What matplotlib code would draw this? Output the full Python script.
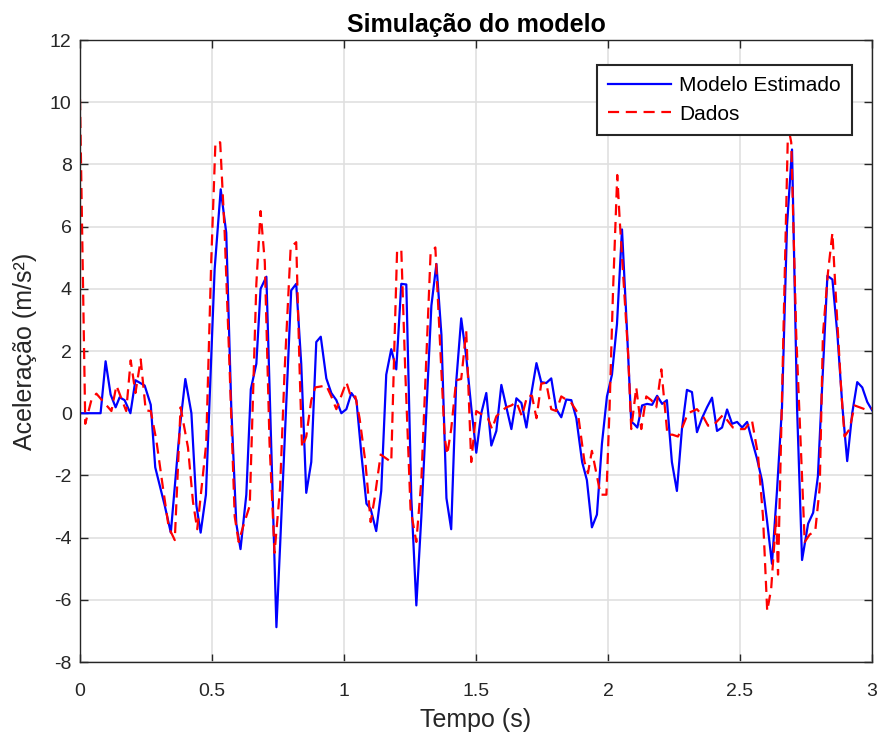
import matplotlib
matplotlib.use("Agg")
import matplotlib.pyplot as plt

# Modelo Estimado (blue)
t_modelo = [0.0, 0.078, 0.097, 0.116, 0.135, 0.150, 0.169, 0.191, 0.210, 0.245, 0.268,
            0.285, 0.321, 0.344, 0.379, 0.399, 0.422, 0.441, 0.457, 0.477, 0.510, 0.533,
            0.554, 0.573, 0.592, 0.608, 0.630, 0.647, 0.668, 0.684, 0.706, 0.744, 0.758,
            0.800, 0.819, 0.838, 0.857, 0.876, 0.895, 0.912, 0.933, 0.952, 0.971, 0.990,
            1.009, 1.028, 1.047, 1.066, 1.085, 1.101, 1.122, 1.141, 1.160, 1.179, 1.198,
            1.217, 1.236, 1.255, 1.274, 1.293, 1.331, 1.350, 1.369, 1.388, 1.406, 1.425,
            1.444, 1.463, 1.482, 1.501, 1.520, 1.539, 1.558, 1.577, 1.596, 1.615, 1.634,
            1.653, 1.672, 1.691, 1.710, 1.729, 1.747, 1.766, 1.785, 1.804, 1.823, 1.842,
            1.861, 1.880, 1.902, 1.920, 1.939, 1.958, 1.977, 1.996, 2.015, 2.034, 2.053,
            2.072, 2.088, 2.098, 2.111, 2.129, 2.148, 2.167, 2.186, 2.205, 2.223, 2.242,
            2.261, 2.280, 2.299, 2.318, 2.337, 2.356, 2.375, 2.394, 2.413, 2.432, 2.451,
            2.470, 2.489, 2.508, 2.527, 2.545, 2.564, 2.583, 2.602, 2.621, 2.640, 2.659,
            2.678, 2.697, 2.716, 2.735, 2.758, 2.777, 2.795, 2.831, 2.850, 2.869, 2.888,
            2.906, 2.925, 2.944, 2.963, 2.982, 3.0]
a_modelo = [0.0, 0.0, 1.67, 0.6, 0.19, 0.51, 0.42, 0.0, 1.06, 0.89, 0.27,
            -1.74, -2.97, -3.84, -0.4, 1.1, 0.0, -2.97, -3.84, -2.62, 4.63, 7.2,
            5.8, 0.19, -3.55, -4.37, -2.62, 0.77, 1.59, 4.0, 4.39, -6.88, -4.25,
            3.95, 4.16, 1.59, -2.56, -1.57, 2.29, 2.46, 1.12, 0.65, 0.42, 0.0,
            0.13, 0.65, 0.42, -1.33, -2.91, -3.08, -3.79, -2.5, 1.24, 2.06, 1.41,
            4.16, 4.14, -2.73, -6.18, -3.32, 3.46, 4.8, 2.52, -2.73, -3.73, 1.0,
            3.05, 1.82, 0.19, -1.27, 0.0, 0.65, -1.04, -0.57, 0.91, 0.19, -0.51,
            0.48, 0.33, -0.46, 0.65, 1.61, 1.0, 0.97, 1.12, 0.13, -0.13, 0.44,
            0.42, -0.16, -1.57, -2.15, -3.67, -3.26, -0.98, 0.54, 1.24, 2.87, 5.91,
            2.64, -0.28, -0.34, -0.46, 0.25, 0.30, 0.27, 0.56, 0.30, 0.42, -1.57,
            -2.5, -0.51, 0.75, 0.68, -0.61, -0.16, 0.19, 0.5, -0.57, -0.46, 0.12,
            -0.34, -0.28, -0.46, -0.28, -0.86, -1.45, -2.15, -3.43, -4.84, -2.5, 0.19,
            6.03, 8.48, 0.19, -4.72, -3.55, -3.2, -2.03, 4.42, 4.3, 2.52, 0.19,
            -1.54, 0.0, 1.0, 0.83, 0.36, 0.1]

# Dados (red dashed)
t_dados = [0.0, 0.020, 0.043, 0.062, 0.119, 0.138, 0.175, 0.192, 0.210, 0.230, 0.249,
           0.268, 0.289, 0.314, 0.336, 0.359, 0.381, 0.409, 0.428, 0.444, 0.478, 0.497,
           0.513, 0.531, 0.548, 0.567, 0.586, 0.601, 0.617, 0.643, 0.668, 0.684, 0.700,
           0.718, 0.737, 0.758, 0.775, 0.798, 0.819, 0.832, 0.841, 0.857, 0.876, 0.891,
           0.933, 0.952, 0.971, 1.009, 1.028, 1.043, 1.059, 1.081, 1.101, 1.116, 1.139,
           1.179, 1.192, 1.201, 1.217, 1.232, 1.252, 1.274, 1.293, 1.328, 1.346, 1.362,
           1.381, 1.391, 1.406, 1.425, 1.444, 1.463, 1.482, 1.501, 1.545, 1.561, 1.577,
           1.596, 1.615, 1.634, 1.653, 1.674, 1.694, 1.712, 1.729, 1.747, 1.766, 1.785,
           1.804, 1.823, 1.861, 1.886, 1.911, 1.924, 1.939, 1.956, 1.972, 1.994, 2.006,
           2.019, 2.035, 2.044, 2.063, 2.076, 2.088, 2.107, 2.126, 2.145, 2.164, 2.183,
           2.202, 2.225, 2.244, 2.265, 2.284, 2.303, 2.337, 2.360, 2.379, 2.398, 2.436,
           2.473, 2.492, 2.518, 2.545, 2.568, 2.587, 2.603, 2.618, 2.637, 2.644, 2.682,
           2.694, 2.713, 2.745, 2.764, 2.785, 2.802, 2.814, 2.833, 2.850, 2.865, 2.884,
           2.896, 2.915, 2.934, 2.953, 2.972, 3.0]
a_dados = [10.1, -0.34, 0.42, 0.63, 0.07, 0.89, 0.07, 1.7, 0.65, 1.73, 0.09,
           0.07, -0.86, -2.38, -3.67, -4.08, 0.19, -1.1, -2.85, -3.73, -0.98, 4.86,
           8.71, 8.71, 5.8, 1.36, -3.32, -4.14, -3.67, -2.97, 4.16, 6.5, 4.86,
           -0.98, -4.49, -2.38, 1.36, 5.33, 5.5, 1.36, -1.1, -0.75, 0.42, 0.83,
           0.89, 0.54, 0.13, 1.0, 0.48, 0.54, -0.16, -1.57, -3.5, -2.73, -1.33,
           -1.57, 2.52, 5.21, 5.27, 1.36, -3.08, -4.14, -2.15, 5.15, 5.33, 2.52,
           -0.75, -1.33, -0.51, 1.06, 1.1, 2.64, -1.57, 0.07, -0.16, -0.51, -0.1,
           0.07, 0.19, 0.25, 0.36, -0.1, 0.56, 0.56, -0.16, 0.95, 0.98, 0.13,
           0.07, 0.54, 0.33, 0.0, -1.57, -1.93, -1.21, -1.93, -2.62, -2.62, 0.19,
           3.93, 7.66, 6.26, 3.69, 1.94, -0.51, 0.83, -0.51, 0.54, 0.42, 0.19,
           1.41, -0.69, -0.69, -0.75, -0.4, 0.0, 0.13, -0.1, -0.4, -0.4, -0.05,
           -0.46, -0.51, -0.51, -0.22, -1.33, -3.32, -6.36, -5.65, -3.32, -5.19, 9.24,
           8.71, 2.52, -4.14, -3.9, -3.79, -2.38, 2.52, 4.51, 5.8, 3.46, 0.65,
           -0.75, -0.51, 0.25, 0.19, 0.13, 0.15]

plt.rcParams['font.family'] = ['Liberation Sans', 'DejaVu Sans']
plt.rcParams['axes.unicode_minus'] = False

fig = plt.figure(figsize=(8.81, 7.4), dpi=100)
ax = fig.add_axes([0.0908, 0.1054, 0.899, 0.8405])

ax.plot(t_modelo, a_modelo, color="#0000ff", linewidth=1.6, label="Modelo Estimado")
ax.plot(t_dados, a_dados, color="#ff0000", linewidth=1.6, linestyle=(0, (5, 3)), label="Dados")

ax.set_xlim(0, 3)
ax.set_ylim(-8, 12)
ax.set_xticks([0, 0.5, 1, 1.5, 2, 2.5, 3])
ax.set_xticklabels(["0", "0.5", "1", "1.5", "2", "2.5", "3"])
ax.set_yticks(range(-8, 13, 2))
ax.grid(True, color="#e0e0e0", linewidth=1.2)
ax.set_axisbelow(True)
for s in ax.spines.values():
    s.set_color("#262626")
    s.set_linewidth(1.0)
ax.tick_params(direction="in", length=6, width=1, colors="#262626", labelsize=14,
               top=True, right=True)
ax.tick_params(axis="x", pad=15)
ax.tick_params(axis="y", pad=6)

ax.set_xlabel("Tempo (s)", fontsize=18, color="#262626", labelpad=6)
ax.set_ylabel("Aceleração (m/s²)", fontsize=18, color="#262626", labelpad=9)
ax.set_title("Simulação do modelo", fontsize=18, fontweight="bold", pad=6)

leg = ax.legend(loc="upper right", fontsize=15, fancybox=False, framealpha=1,
                edgecolor="#262626", bbox_to_anchor=(0.988, 0.977), handlelength=3.0,
                borderpad=0.55, labelspacing=0.45, handletextpad=0.4)
leg.get_frame().set_linewidth(1.5)

fig.savefig("out.png", dpi=100)
